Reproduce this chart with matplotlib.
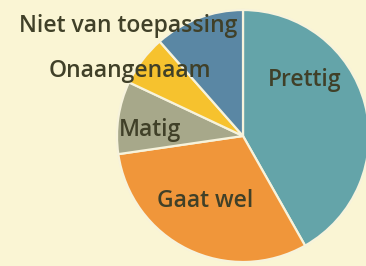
import matplotlib
matplotlib.use("Agg")
import matplotlib.pyplot as plt

categories = ["Prettig", "Gaat wel", "Matig", "Onaangenaam", "Niet van toepassing"]
values = [41.8, 30.9, 9.3, 6.5, 11.5]
colors = ["#64a4a9", "#f0963a", "#a7a88a", "#f6c22e", "#5a87a4"]

W, H = 366, 266
fig = plt.figure(figsize=(W / 100, H / 100), dpi=100)
fig.patch.set_facecolor("#faf5d4")
ax = fig.add_axes([0, 0, 1, 1])
ax.set_facecolor("#faf5d4")

cx, cy, r = 243, H - 136, 126
ax.pie(values, colors=colors, startangle=90, counterclock=False,
       center=(cx, cy), radius=r,
       wedgeprops=dict(edgecolor="#f7f3dc", linewidth=1.6))
ax.set_xlim(0, W)
ax.set_ylim(0, H)
ax.set_aspect("equal")
ax.axis("off")

label_pos = {
    "Prettig": (305, 80),
    "Gaat wel": (205, 201),
    "Matig": (150, 130),
    "Onaangenaam": (130, 71),
    "Niet van toepassing": (128, 26),
}
for cat in categories:
    x, y = label_pos[cat]
    ax.text(x, H - y, cat, ha="center", va="center", fontsize=16.5,
            family="Open Sans", fontweight="semibold", color="#404028")

fig.savefig("out.png", dpi=100, facecolor=fig.get_facecolor())
